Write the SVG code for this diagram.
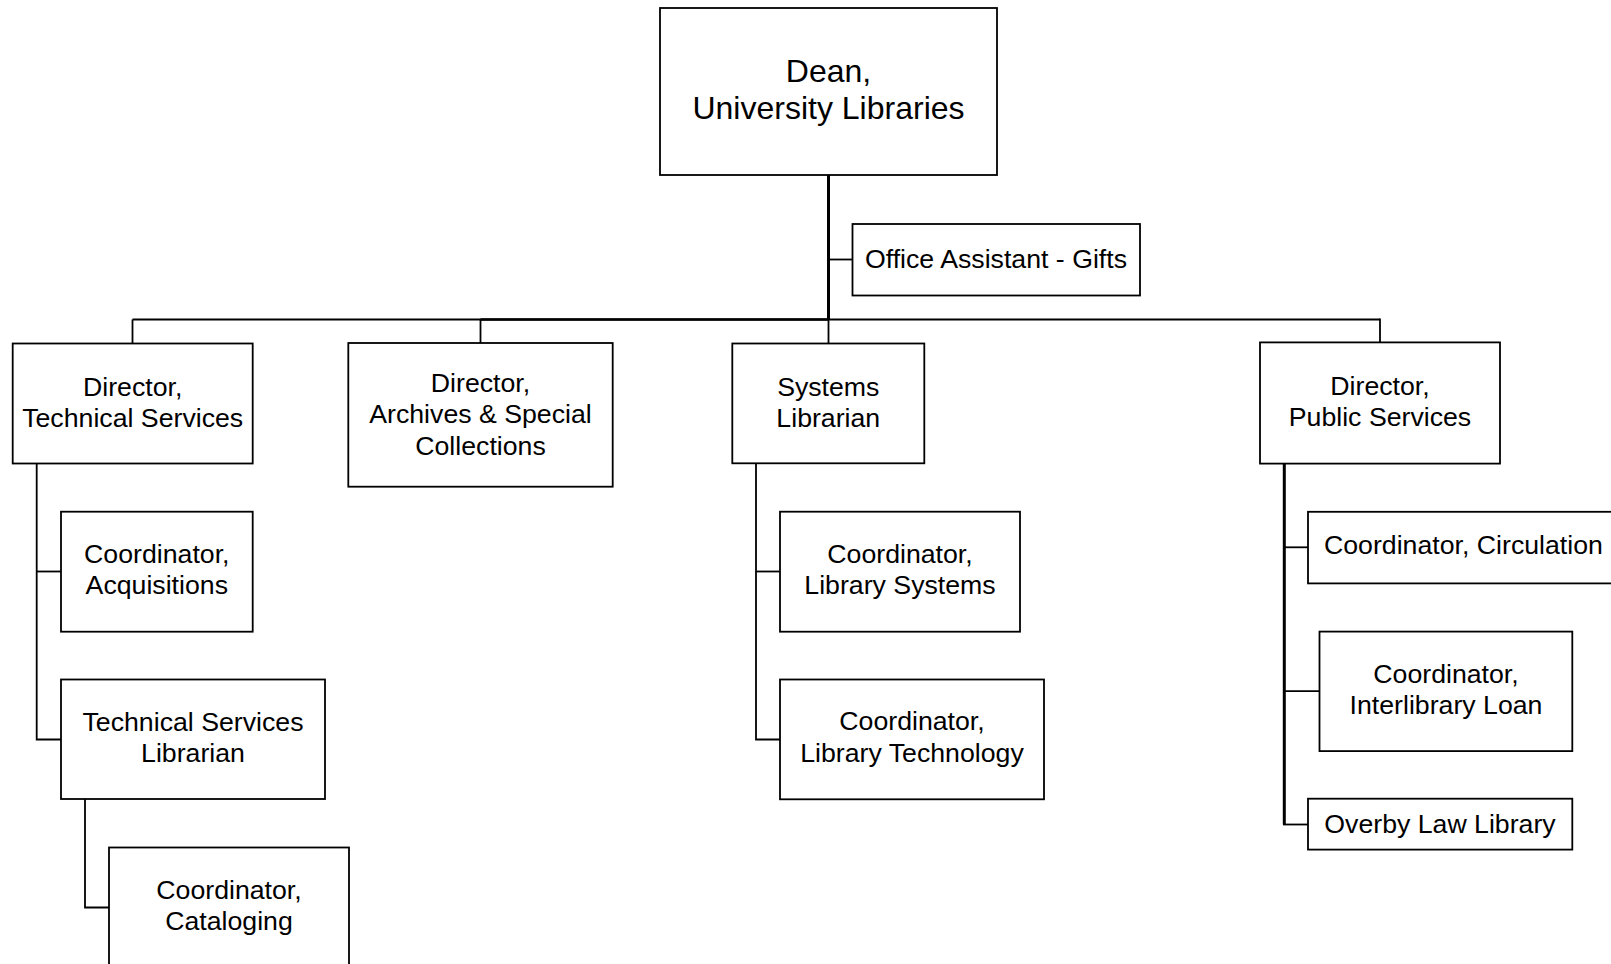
<svg xmlns="http://www.w3.org/2000/svg" width="1611" height="964" viewBox="0 0 1611 964">
<style>
rect.box{fill:#fff;stroke:#000;stroke-width:1.8}
text{font-family:"Liberation Sans",Arial,sans-serif;font-size:26.7px;fill:#000;text-anchor:middle}
text.big{font-size:32px}
.conn line,.conn polyline{stroke:#000;stroke-width:1.8;fill:none}
.conn .thick{stroke-width:3}
</style>
<rect width="1611" height="964" fill="#fff"/>
<g class="conn" id="connectors">
<line class="thick" x1="828.5" y1="175" x2="828.5" y2="320"/>
<line x1="828.5" y1="259.5" x2="852.5" y2="259.5"/>
<line x1="132.5" y1="319.5" x2="1380" y2="319.5"/>
<line x1="480.5" y1="319.5" x2="828.5" y2="319.5" style="stroke-width:2.4"/>
<line x1="132.5" y1="319.5" x2="132.5" y2="343.5"/>
<line x1="480.5" y1="319.5" x2="480.5" y2="343"/>
<line x1="828.5" y1="319.5" x2="828.5" y2="343.5"/>
<line x1="1380" y1="318.6" x2="1380" y2="342.4"/>
<polyline points="36.7,463.5 36.7,739.5 61,739.5"/>
<line x1="36.7" y1="571.5" x2="61" y2="571.5"/>
<polyline points="85,799 85,907.5 109,907.5"/>
<polyline points="756,463.5 756,739.5 780,739.5"/>
<line x1="756" y1="571.5" x2="780" y2="571.5"/>
<line class="thick" x1="1284.3" y1="463.6" x2="1284.3" y2="824.5"/>
<line x1="1283" y1="824.5" x2="1308" y2="824.5"/>
<line x1="1284.3" y1="547.3" x2="1308" y2="547.3"/>
<line x1="1284.3" y1="691.2" x2="1319.5" y2="691.2"/>
</g>
<g id="dean"><rect class="box" x="660" y="8" width="337" height="167"/>
<text class="big" x="828.5" y="81.7">Dean,</text><text class="big" x="828.5" y="119.3">University Libraries</text></g>
<g id="office-assistant"><rect class="box" x="852.5" y="224" width="287.5" height="71.5"/>
<text x="996" y="267.7">Office Assistant - Gifts</text></g>
<g id="dir-tech"><rect class="box" x="12.7" y="343.5" width="240" height="120"/>
<text x="132.7" y="396">Director,</text><text x="132.7" y="427.3">Technical Services</text></g>
<g id="coord-acq"><rect class="box" x="61" y="511.7" width="191.7" height="120"/>
<text x="156.8" y="562.7">Coordinator,</text><text x="156.8" y="594">Acquisitions</text></g>
<g id="tech-lib"><rect class="box" x="61" y="679.5" width="264" height="119.5"/>
<text x="193" y="730.7">Technical Services</text><text x="193" y="762.3">Librarian</text></g>
<g id="coord-cat"><rect class="box" x="109" y="847.5" width="240" height="122"/>
<text x="229" y="899.3">Coordinator,</text><text x="229" y="930">Cataloging</text></g>
<g id="dir-archives"><rect class="box" x="348.3" y="343" width="264.4" height="143.7"/>
<text x="480.5" y="391.7">Director,</text><text x="480.5" y="423.3">Archives &amp; Special</text><text x="480.5" y="455">Collections</text></g>
<g id="systems-lib"><rect class="box" x="732.3" y="343.5" width="192" height="119.8"/>
<text x="828.3" y="396">Systems</text><text x="828.3" y="427.3">Librarian</text></g>
<g id="coord-libsys"><rect class="box" x="780" y="511.7" width="240" height="120"/>
<text x="900" y="562.7">Coordinator,</text><text x="900" y="594">Library Systems</text></g>
<g id="coord-libtech"><rect class="box" x="780" y="679.5" width="264" height="119.8"/>
<text x="912" y="730">Coordinator,</text><text x="912" y="761.7">Library Technology</text></g>
<g id="dir-public"><rect class="box" x="1260" y="342.4" width="240" height="121.2"/>
<text x="1380" y="395.1">Director,</text><text x="1380" y="426.1">Public Services</text></g>
<g id="coord-circ"><rect class="box" x="1308" y="511.8" width="320" height="71.6"/>
<text x="1324" y="554.2" style="text-anchor:start">Coordinator, Circulation</text></g>
<g id="coord-ill"><rect class="box" x="1319.5" y="631.6" width="252.8" height="119.5"/>
<text x="1446" y="682.6">Coordinator,</text><text x="1446" y="714.3">Interlibrary Loan</text></g>
<g id="overby"><rect class="box" x="1308" y="798.7" width="264.3" height="50.9"/>
<text x="1440" y="833.1">Overby Law Library</text></g>
</svg>
